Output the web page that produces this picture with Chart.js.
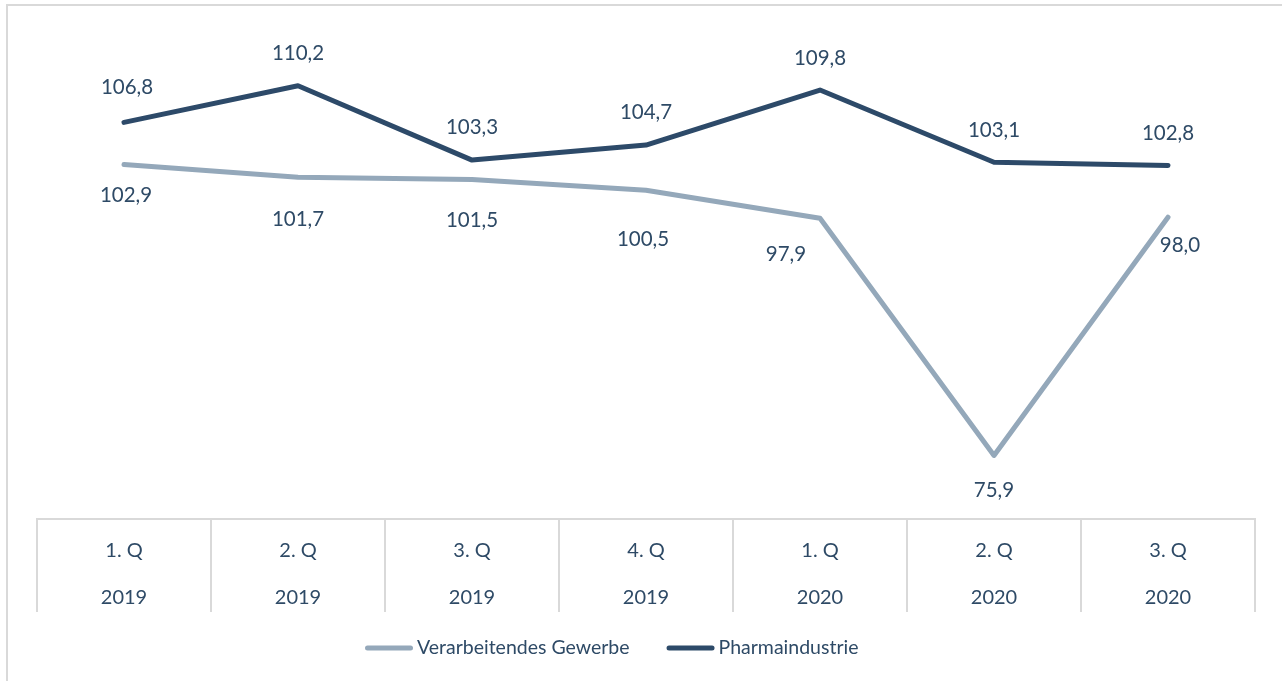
<!DOCTYPE html>
<html>
<head>
<meta charset="utf-8">
<script src="https://cdn.jsdelivr.net/npm/chart.js@4.4.0/dist/chart.umd.min.js"></script>
<style>
html,body{margin:0;padding:0;background:#fff;}
#wrap{width:1282px;height:681px;position:relative;}
</style>
</head>
<body>
<div id="wrap"><canvas id="c" width="1282" height="681"></canvas></div>
<script>
const quarters = ["1. Q","2. Q","3. Q","4. Q","1. Q","2. Q","3. Q"];
const years = ["2019","2019","2019","2019","2020","2020","2020"];
const verarbeitendes = [102.9, 101.7, 101.5, 100.5, 97.9, 75.9, 98.0];
const pharma = [106.8, 110.2, 103.3, 104.7, 109.8, 103.1, 102.8];
const seriesNames = ["Verarbeitendes Gewerbe", "Pharmaindustrie"];

// label offsets (layout only)
const labelOffsetsVer = [[2,31],[0,42],[0,41],[-3,49],[-34,36],[0,35],[12,28]];
const labelOffsetsPh = [[3,-35],[0,-32],[0,-33],[0,-33],[0,-32],[0,-32],[0,-32]];

const TEXT = '#2E4A66';
const FONT = 'Lato, "Open Sans", sans-serif';
const GREY = '#94A8BA';
const DARK = '#2D4A69';
const AXIS_H = 93;

const frame = {
  id:'frame',
  beforeDraw(chart){
    const ctx = chart.ctx;
    ctx.save();
    ctx.strokeStyle = '#D9D9D9';
    ctx.lineWidth = 2;
    ctx.strokeRect(7, 5, 1400, 1000);
    ctx.restore();
  }
};

const dividers = {
  id:'dividers',
  afterDraw(chart){
    const s = chart.scales.x;
    const ctx = chart.ctx;
    const n = chart.data.labels.length;
    const half = (s.getPixelForValue(1) - s.getPixelForValue(0)) / 2;
    ctx.save();
    ctx.strokeStyle = '#D9D9D9';
    ctx.lineWidth = 2;
    ctx.beginPath();
    for (let i = 0; i <= n; i++) {
      const x = Math.round(s.getPixelForValue(0) - half + i * 2 * half);
      ctx.moveTo(x, s.top);
      ctx.lineTo(x, s.top + AXIS_H);
    }
    ctx.stroke();
    ctx.restore();
  }
};

const customLegend = {
  id:'customLegend',
  afterDraw(chart){
    const ctx = chart.ctx;
    const y = 648;
    let x = 365;
    ctx.save();
    ctx.font = '19.5px ' + FONT;
    ctx.textBaseline = 'middle';
    ctx.textAlign = 'left';
    chart.data.datasets.forEach((ds) => {
      ctx.strokeStyle = ds.borderColor;
      ctx.lineWidth = 5;
      ctx.lineCap = 'round';
      ctx.beginPath();
      ctx.moveTo(x + 2.5, y);
      ctx.lineTo(x + 45.5, y);
      ctx.stroke();
      ctx.fillStyle = TEXT;
      ctx.fillText(ds.label, x + 52, y);
      x = x + 52 + ctx.measureText(ds.label).width + 37;
    });
    ctx.restore();
  }
};

const valueLabels = {
  id:'valueLabels',
  afterDatasetsDraw(chart){
    const ctx = chart.ctx;
    ctx.save();
    ctx.font = '20.5px ' + FONT;
    ctx.fillStyle = TEXT;
    ctx.textAlign = 'center';
    ctx.textBaseline = 'middle';
    chart.data.datasets.forEach((ds, di) => {
      const meta = chart.getDatasetMeta(di);
      const offs = di === 0 ? labelOffsetsVer : labelOffsetsPh;
      meta.data.forEach((pt, i) => {
        const txt = ds.data[i].toFixed(1).replace('.', ',');
        ctx.fillText(txt, pt.x + offs[i][0], pt.y + offs[i][1]);
      });
    });
    ctx.restore();
  }
};

new Chart(document.getElementById('c'), {
  type:'line',
  data:{
    labels: quarters.map((q,i)=>[q, years[i]]),
    datasets:[
      {label: seriesNames[0], data: verarbeitendes, borderColor: GREY, backgroundColor: GREY,
       borderWidth:5, borderCapStyle:'round', borderJoinStyle:'round', pointRadius:0, tension:0},
      {label: seriesNames[1], data: pharma, borderColor: DARK, backgroundColor: DARK,
       borderWidth:5, borderCapStyle:'round', borderJoinStyle:'round', pointRadius:0, tension:0}
    ]
  },
  options:{
    responsive:false,
    animation:false,
    devicePixelRatio:1,
    layout:{padding:{left:37, right:27, top:34, bottom:69}},
    plugins:{
      tooltip:{enabled:false},
      legend:{display:false}
    },
    scales:{
      x:{
        offset:true,
        grid:{offset:true, display:false},
        border:{display:true, color:'#D9D9D9', width:2},
        ticks:{color:TEXT, font:{size:20, family:FONT, lineHeight:2.35}, padding:0, maxRotation:0, autoSkip:false},
        afterFit(scale){ scale.height = AXIS_H; }
      },
      y:{
        display:false, min:70, max:115
      }
    }
  },
  plugins:[frame, dividers, valueLabels, customLegend]
});
</script>
</body>
</html>
